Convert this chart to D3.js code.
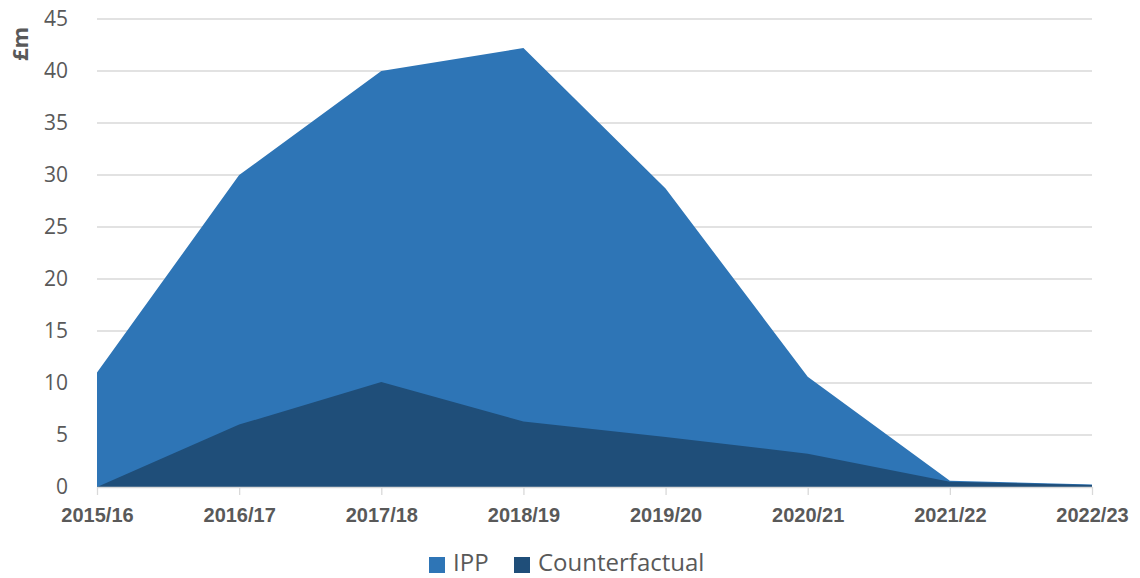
<!DOCTYPE html>
<head>
  <meta charset="utf-8">
  <script src="https://d3js.org/d3.v7.min.js"></script>
  <style>
    body { margin: 0; background: white; }
    text { font-family: "Open Sans", "Noto Sans", sans-serif; fill: #595959; }
  </style>
</head>
<body>
  <div id="chartDiv"></div>
  <script>

  // chart data
  var years = ["2015/16", "2016/17", "2017/18", "2018/19", "2019/20", "2020/21", "2021/22", "2022/23"];
  var ippValues = [11, 30, 40, 42.2, 28.7, 10.6, 0.6, 0.25];
  var counterfactualValues = [0, 6, 10.1, 6.3, 4.8, 3.2, 0.5, 0.2];
  var yTicks = [0, 5, 10, 15, 20, 25, 30, 35, 40, 45];

  var width = 1140;
  var height = 578;

  var svg = d3.select("#chartDiv").append("svg")
    .attr("width", width)
    .attr("height", height);

  var x = d3.scalePoint()
    .domain(years)
    .range([97, 1092]);

  var y = d3.scaleLinear()
    .domain([0, 45])
    .range([487, 19]);

  // gridlines
  svg.append("g")
    .selectAll("line")
    .data(yTicks.filter(function(d) { return d > 0; }))
    .enter()
    .append("line")
    .attr("x1", 97)
    .attr("x2", 1092)
    .attr("y1", function(d) { return y(d); })
    .attr("y2", function(d) { return y(d); })
    .style("stroke", "#d9d9d9")
    .style("stroke-width", 1.3);

  var area = function(values) {
    return d3.area()
      .x(function(d, i) { return x(years[i]); })
      .y0(y(0))
      .y1(function(d) { return y(d); })(values);
  };

  svg.append("path")
    .attr("d", area(ippValues))
    .style("fill", "#2E75B6");

  svg.append("path")
    .attr("d", area(counterfactualValues))
    .style("fill", "#1F4E79");

  // y axis
  var yAxis = svg.append("g")
    .attr("transform", "translate(78,0)")
    .call(d3.axisLeft(y).tickValues(yTicks).tickSize(0).tickPadding(10));
  yAxis.select(".domain").remove();
  yAxis.selectAll("text")
    .style("font-size", "21px")
    .style("font-family", "'Open Sans', sans-serif")
    .style("fill", "#595959");

  // x axis
  var xAxis = svg.append("g")
    .attr("transform", "translate(0," + y(0) + ")")
    .call(d3.axisBottom(x).tickSizeOuter(0).tickSizeInner(8).tickPadding(13));
  xAxis.select(".domain")
    .style("stroke", "#d9d9d9")
    .style("stroke-width", 1.3);
  xAxis.selectAll("line")
    .style("stroke", "#d9d9d9")
    .style("stroke-width", 1.3);
  xAxis.selectAll("text")
    .style("font-size", "20px")
    .style("font-weight", "bold")
    .style("font-family", "'Liberation Sans', sans-serif")
    .style("fill", "#595959");

  // y axis title
  svg.append("text")
    .attr("transform", "translate(28,44) rotate(-90)")
    .attr("text-anchor", "middle")
    .style("font-size", "22px")
    .style("font-weight", "bold")
    .text("£m");

  // legend
  var legendItems = [
    { name: "IPP", color: "#2E75B6", x: 429 },
    { name: "Counterfactual", color: "#1F4E79", x: 514 }
  ];
  var legend = svg.append("g");
  legend.selectAll("rect")
    .data(legendItems)
    .enter()
    .append("rect")
    .attr("x", function(d) { return d.x; })
    .attr("y", 557)
    .attr("width", 16)
    .attr("height", 16)
    .style("fill", function(d) { return d.color; });
  legend.selectAll("text")
    .data(legendItems)
    .enter()
    .append("text")
    .attr("x", function(d) { return d.x + 24; })
    .attr("y", 571)
    .style("font-size", "24px")
    .text(function(d) { return d.name; });

  </script>
</body>
